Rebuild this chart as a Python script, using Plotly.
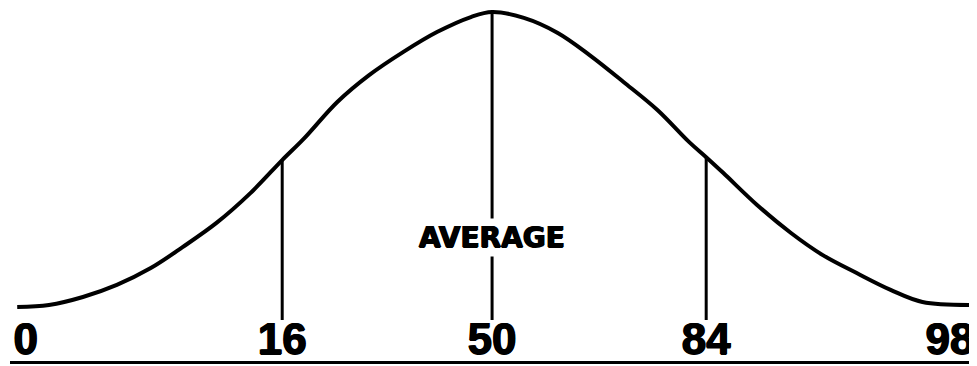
import plotly.graph_objects as go

# bell curve: x in standard deviations, y as relative height
curve_z = [
    -2.24, -2.09, -1.93, -1.77, -1.61, -1.46, -1.30, -1.14, -0.99, -0.89,
    -0.73, -0.58, -0.42, -0.26, -0.10, 0.00, 0.15, 0.31, 0.46, 0.62,
    0.78, 0.93, 1.01, 1.09, 1.25, 1.41, 1.56, 1.72, 1.88, 2.03, 2.26
]
curve_h = [
    0.000, 0.007, 0.034, 0.075, 0.132, 0.203, 0.285, 0.386, 0.498, 0.569,
    0.695, 0.786, 0.864, 0.932, 0.983, 1.000, 0.980, 0.929, 0.854, 0.763,
    0.668, 0.559, 0.508, 0.455, 0.346, 0.251, 0.176, 0.115, 0.058, 0.017,
    0.007
]

# percentile markers
marker_z = [-0.99, 0.00, 1.01]
marker_top = [0.50, 1.00, 0.51]
marker_bottom = -0.044

# percentile labels along the bottom
label_text = ["0", "16", "50", "84", "98"]
label_z = [-2.20, -0.99, 0.00, 1.01, 2.16]
label_h = -0.122

heavy = "0.7px 0 0 black, -0.7px 0 0 black, 0 0.5px 0 black"

fig = go.Figure()

for z, top in zip(marker_z, marker_top):
    fig.add_trace(go.Scatter(
        x=[z, z],
        y=[marker_bottom, top],
        mode="lines",
        line=dict(color="black", width=3),
        hoverinfo="skip"
    ))

fig.add_trace(go.Scatter(
    x=curve_z,
    y=curve_h,
    mode="lines",
    line=dict(color="black", width=4, shape="spline", smoothing=1.0),
    hoverinfo="skip"
))

fig.add_trace(go.Scatter(
    x=label_z,
    y=[label_h] * len(label_z),
    mode="text",
    text=label_text,
    textposition="middle center",
    textfont=dict(family="Liberation Sans, Arial", size=44, color="black",
                  weight="bold", shadow=heavy),
    hoverinfo="skip"
))

fig.add_annotation(
    x=0.0,
    y=0.237,
    xref="x",
    yref="y",
    text="AVERAGE",
    showarrow=False,
    bgcolor="white",
    borderpad=2,
    font=dict(family="DejaVu Sans", size=28, color="black", weight="bold",
              shadow=heavy)
)

fig.update_xaxes(
    range=[-2.274, 2.278],
    showgrid=False,
    zeroline=False,
    showticklabels=False,
    ticks="",
    showline=True,
    linecolor="black",
    linewidth=3
)

fig.update_yaxes(
    range=[-0.183, 1.0136],
    visible=False
)

# the page body adds an 8px offset, so the margins are shifted to suit
fig.update_layout(
    width=977,
    height=366,
    margin=dict(l=2, r=10, t=0, b=13),
    showlegend=False,
    paper_bgcolor="white",
    plot_bgcolor="white"
)

fig.write_html("out.html")
